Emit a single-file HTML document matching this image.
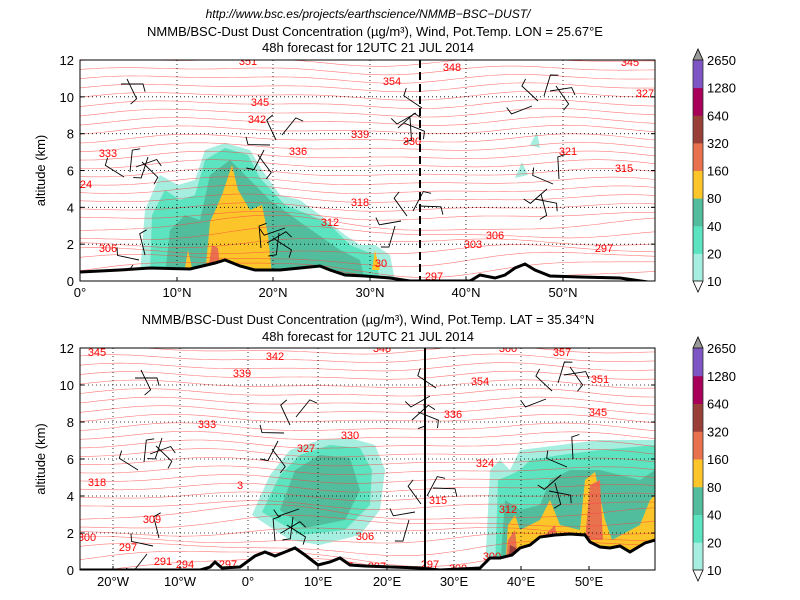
<!DOCTYPE html>
<html><head><meta charset="utf-8"><style>
html,body{margin:0;padding:0;background:#fff;width:800px;height:600px;overflow:hidden}
text{font-family:"Liberation Sans","DejaVu Sans",sans-serif}
</style></head><body>
<svg id="s" width="800" height="600" viewBox="0 0 800 600" xmlns="http://www.w3.org/2000/svg">
<rect width="800" height="600" fill="#fff"/>
<text x="368" y="18" font-size="12" font-style="italic" font-family="Liberation Serif,serif" text-anchor="middle">http://www.bsc.es/projects/earthscience/NMMB−BSC−DUST/</text>
<text x="375" y="36" font-size="13" text-anchor="middle">NMMB/BSC-Dust Dust Concentration (µg/m³), Wind, Pot.Temp. LON = 25.67°E</text>
<text x="368" y="52" font-size="13" text-anchor="middle">48h forecast for 12UTC 21 JUL 2014</text>
<text x="368" y="324" font-size="13" text-anchor="middle">NMMB/BSC-Dust Dust Concentration (µg/m³), Wind, Pot.Temp. LAT = 35.34°N</text>
<text x="368" y="341" font-size="13" text-anchor="middle">48h forecast for 12UTC 21 JUL 2014</text>
<g id="top"></g><g id="bot"></g>
</svg>
<script>
var NS="http://www.w3.org/2000/svg",S=document.getElementById('s');
function el(t,a,p){var e=document.createElementNS(NS,t);for(var k in a)e.setAttribute(k,a[k]);(p||S).appendChild(e);return e}
function tx(x,y,s,a,p){var e=el('text',a,p);e.setAttribute('x',x);e.setAttribute('y',y);e.textContent=s;return e}
var cols=['#a6eee0','#5ce3bf','#52bd9c','#fcc62a','#e8714e','#9a3f38','#a8005a','#7e55c4'];
function panel(g,x0,y0,x1,y1,xt,seed,dust,terr,labels,dashed,vx){
 var G=document.getElementById(g);
 el('rect',{x:x0,y:y0,width:x1-x0,height:y1-y0,fill:'#fff'},G);
 var clip='c'+g;var cp=el('clipPath',{id:clip},G);el('rect',{x:x0,y:y0,width:x1-x0,height:y1-y0},cp);
 var C=el('g',{'clip-path':'url(#'+clip+')'},G);
 dust.forEach(function(d){el('path',{d:d[1],fill:cols[d[0]]},C)});
 for(var i=0;i<28;i++){var yb=y1+4-i*8.6,d='';
  for(var x=x0;x<=x1;x+=5){var y=yb+3*Math.sin((x+seed*i)/57)+2*Math.sin((x*1.3+i*13)/41)+(i<8?5*Math.sin(x/70+i):0);d+=(x==x0?'M':'L')+x+','+y.toFixed(1)}
  el('path',{d:d,fill:'none',stroke:'#ff4040','stroke-width':0.6,opacity:0.7},C)}
 var h=(y1-y0)/6;
 for(var k=1;k<6;k++)el('line',{x1:x0,x2:x1,y1:y1-k*h,y2:y1-k*h,stroke:'#000','stroke-dasharray':'1,3','stroke-width':0.8},C);
 xt.forEach(function(t){el('line',{x1:t[0],x2:t[0],y1:y0,y2:y1,stroke:'#000','stroke-dasharray':'1,3','stroke-width':0.8},C)});
 for(var b=0;b<40;b++){var bx=x0+20+((b*137+seed*7)%(x1-x0-30)),by=y0+15+((b*71+seed*3)%(y1-y0-30)),a=(b*53%360)*Math.PI/180;
  var ex=bx+22*Math.cos(a),ey=by+22*Math.sin(a);
  el('path',{d:'M'+bx+','+by+'L'+ex.toFixed(1)+','+ey.toFixed(1)+'l'+(8*Math.cos(a+1.3)).toFixed(1)+','+(8*Math.sin(a+1.3)).toFixed(1),stroke:'#000','stroke-width':0.9,fill:'none'},C)}
 labels.forEach(function(l){tx(l[0],l[1],l[2],{'font-size':11,fill:'#f00','text-anchor':'middle'},C)});
 el('path',{d:terr,fill:'#fff',stroke:'none'},C);
 el('path',{d:terr.replace(/L[0-9.]+,[0-9.]+L[0-9.]+,[0-9.]+Z$/,''),fill:'none',stroke:'#000','stroke-width':3},C);
 el('line',{x1:vx,x2:vx,y1:y0,y2:y1,stroke:'#000','stroke-width':2,'stroke-dasharray':dashed?'8,4':'none'},C);
 el('rect',{x:x0,y:y0,width:x1-x0,height:y1-y0,fill:'none',stroke:'#000','stroke-width':1},G);
 for(var k=0;k<=6;k++){var y=y1-k*h;tx(x0-6,y+5,String(k*2),{'font-size':13,'text-anchor':'end'},G);
  el('line',{x1:x0,x2:x0+4,y1:y,y2:y,stroke:'#000'},G);el('line',{x1:x1,x2:x1-4,y1:y,y2:y,stroke:'#000'},G)}
 xt.forEach(function(t){tx(t[0],y1+16,t[1],{'font-size':13,'text-anchor':'middle'},G);el('line',{x1:t[0],x2:t[0],y1:y1,y2:y1-4,stroke:'#000'},G)});
 var tl=tx(45,(y0+y1)/2,'altitude (km)',{'font-size':13,'text-anchor':'middle'},G);tl.setAttribute('transform','rotate(-90 45 '+(y0+y1)/2+')');
 var cx=693,cw=10,ch=(y1-y0)/8,lab=['10','20','40','80','160','320','640','1280','2650'];
 for(var k=0;k<8;k++)el('rect',{x:cx,y:y1-(k+1)*ch,width:cw,height:ch+0.5,fill:cols[k]},G);
 el('path',{d:'M'+cx+','+y0+'L'+(cx+cw/2)+','+(y0-11)+'L'+(cx+cw)+','+y0+'Z',fill:'#999',stroke:'#000','stroke-width':0.8},G);
 el('path',{d:'M'+cx+','+y1+'L'+(cx+cw/2)+','+(y1+11)+'L'+(cx+cw)+','+y1+'Z',fill:'#fff',stroke:'#000','stroke-width':0.8},G);
 el('rect',{x:cx,y:y0,width:cw,height:y1-y0,fill:'none',stroke:'#333','stroke-width':0.8},G);
 for(var k=0;k<9;k++)tx(cx+14,y1-k*ch+5,lab[k],{'font-size':13},G);
}
panel('top',80,60,655,281,[[80,'0°'],[177,'10°N'],[273,'20°N'],[370,'30°N'],[466,'40°N'],[563,'50°N']],3,
 [[0,'M140,275L145,210L160,175L178,185L195,180L205,150L225,143L250,150L262,170L280,195L300,200L320,215L345,235L360,245L375,245L390,255L395,281L140,281Z'],
  [1,'M150,275L152,215L165,190L180,200L195,195L205,160L225,148L248,155L260,178L285,205L310,215L330,225L350,245L375,255L380,281Z'],
  [2,'M165,275L170,230L185,215L200,220L210,175L230,160L250,180L270,200L300,222L340,250L360,260L365,281Z'],
  [3,'M205,275L210,222L222,195L232,165L238,190L250,210L262,205L268,235L272,275Z'],
  [4,'M208,270L212,245L218,248L220,268Z'],
  [0,'M530,145L537,132L540,148Z'],[0,'M515,178L522,162L528,175Z'],[3,'M185,268L188,250L192,268Z'],[3,'M372,270L375,250L380,270Z']],
 'M80,272L120,270L150,268L190,269L215,263L225,260L240,266L255,270L280,270L300,268L320,266L330,270L345,275L365,276L390,278L410,281L470,281L480,275L495,278L505,275L515,268L525,264L535,270L550,276L580,277L620,278L655,283L655,290L80,290Z',
 [[248,65,'351'],[392,85,'354'],[452,71,'348'],[630,66,'345'],[645,97,'327'],[260,106,'345'],[257,123,'342'],[360,138,'339'],[412,145,'330'],[108,157,'333'],[298,155,'336'],[568,155,'321'],[624,172,'315'],[86,188,'24'],[360,206,'318'],[330,226,'312'],[108,252,'306'],[473,248,'303'],[495,239,'306'],[604,252,'297'],[434,280,'297'],[381,267,'30']],true,420);
panel('bot',80,348,655,570,[[113,'20°W'],[180,'10°W'],[248,'0°'],[318,'10°E'],[387,'20°E'],[454,'30°E'],[521,'40°E'],[589,'50°E']],5,
 [[0,'M252,515L270,475L290,450L320,440L350,438L375,445L385,470L380,510L360,535L320,545L290,540Z'],
  [1,'M262,512L280,475L300,455L330,445L360,448L372,470L370,505L345,530L300,535Z'],
  [2,'M280,510L295,470L320,455L350,458L360,490L345,520L305,528Z'],
  [0,'M485,570L490,470L500,460L510,470L520,450L600,440L640,440L655,440L655,570Z'],
  [1,'M495,570L498,480L510,475L520,470L530,460L560,455L600,450L655,445L655,570Z'],
  [2,'M500,570L505,500L520,510L540,505L550,480L570,470L600,470L640,480L655,470L655,570Z'],
  [3,'M505,570L508,525L515,515L520,530L540,520L550,500L560,525L580,530L585,480L595,472L605,520L612,540L640,525L650,500L655,495L655,570Z'],
  [4,'M505,570L508,540L515,530L518,560L530,560L540,540L555,525L560,560Z'],
  [4,'M585,540L590,485L600,480L603,540Z'],[5,'M508,565L510,545L516,548L515,565Z']],
 'M80,570L200,570L210,567L215,562L222,568L240,567L255,556L265,552L275,556L285,552L295,548L305,555L318,565L330,562L340,558L350,565L365,566L420,568L440,570L480,568L490,558L500,558L512,555L520,548L530,545L540,537L555,535L570,534L585,535L590,542L600,547L610,548L620,546L630,552L645,543L655,540L655,590L80,590Z',
 [[97,356,'345'],[275,360,'342'],[242,377,'339'],[382,352,'348'],[508,352,'360'],[562,356,'357'],[600,383,'351'],[480,385,'354'],[453,418,'336'],[598,416,'345'],[207,428,'333'],[350,439,'330'],[306,452,'327'],[485,467,'324'],[97,486,'318'],[240,489,'3'],[438,504,'315'],[152,523,'309'],[508,513,'312'],[365,540,'306'],[87,541,'300'],[128,551,'297'],[163,565,'291'],[185,568,'294'],[228,568,'297'],[344,570,'297'],[377,570,'297'],[430,568,'297'],[458,572,'300'],[492,560,'300']],false,425);
</script>
</body></html>
